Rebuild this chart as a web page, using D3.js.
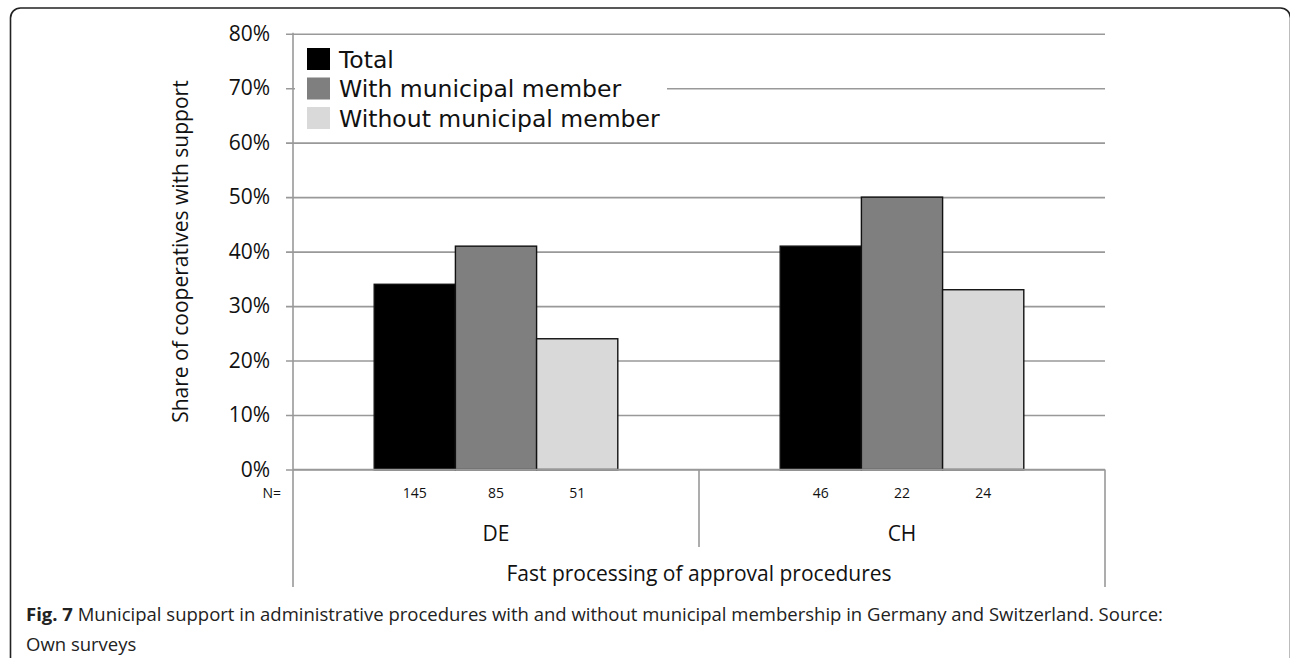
<!DOCTYPE html>
<html>
<head>
<meta charset="utf-8">
<script src="https://cdn.jsdelivr.net/npm/d3@7"></script>
<style>
  html, body { margin: 0; padding: 0; background: #fff; }
  svg { display: block; }
</style>
</head>
<body>
<svg id="chart" width="1290" height="658"></svg>
<script>
// Chart data
const countries = ["DE", "CH"];
const seriesNames = ["Total", "With municipal member", "Without municipal member"];
const seriesColors = ["#000000", "#7f7f7f", "#d9d9d9"];
const totalShare = [34, 41];
const withMemberShare = [41, 50];
const withoutMemberShare = [24, 33];
const sampleSizes = [[145, 85, 51], [46, 22, 24]];
const yTicks = [0, 10, 20, 30, 40, 50, 60, 70, 80];
const yTitle = "Share of cooperatives with support";
const xTitle = "Fast processing of approval procedures";
const captionBold = "Fig. 7";
const captionLine1 = " Municipal support in administrative procedures with and without municipal membership in Germany and Switzerland. Source:";
const captionLine2 = "Own surveys";

const values = [totalShare, withMemberShare, withoutMemberShare];

const svg = d3.select("#chart");
const axisFont = "'Open Sans', 'Noto Sans', sans-serif";

// Outer frame around figure + caption (runs past the right and bottom edges)
svg.append("rect")
  .attr("x", 10.5).attr("y", 8)
  .attr("width", 1280).attr("height", 662)
  .attr("rx", 10).attr("ry", 10)
  .attr("fill", "none").attr("stroke", "#222").attr("stroke-width", 1.6);

const plot = { left: 293, right: 1105, top: 33.7, bottom: 469.5 };

const y = d3.scaleLinear().domain([0, 80]).range([plot.bottom, plot.top]);
const x0 = d3.scaleBand().domain(countries).range([plot.left, plot.right]).paddingInner(0).paddingOuter(0);
const x1 = d3.scaleBand().domain(d3.range(seriesNames.length))
  .range([0, x0.bandwidth()]).paddingInner(0).paddingOuter(1.0);

// Horizontal gridlines with outward ticks
const yAxis = d3.axisLeft(y).tickValues(yTicks)
  .tickSize(-(plot.right - plot.left)).tickSizeOuter(0)
  .tickFormat(d => d + "%");
const gy = svg.append("g").attr("transform", `translate(${plot.left},0)`).call(yAxis);
gy.select(".domain").remove();
gy.selectAll(".tick line").attr("stroke", "#999").attr("stroke-width", 1.6)
  .attr("x1", -7);
gy.selectAll(".tick text")
  .attr("font-family", axisFont).attr("font-size", 21).attr("fill", "#111")
  .attr("x", -23);

// Bars
const groups = svg.append("g").selectAll("g")
  .data(countries).join("g")
  .attr("transform", d => `translate(${x0(d)},0)`);
groups.selectAll("rect")
  .data((d, ci) => values.map((s, si) => ({ si, v: s[ci] })))
  .join("rect")
  .attr("x", d => x1(d.si))
  .attr("width", x1.bandwidth())
  .attr("y", d => y(d.v))
  .attr("height", d => y(0) - y(d.v))
  .attr("fill", d => seriesColors[d.si])
  .attr("stroke", "#111").attr("stroke-width", 1.4);

// Y axis line and category separators
const axisLines = svg.append("g").attr("stroke", "#999").attr("stroke-width", 1.6);
axisLines.append("line").attr("x1", plot.left).attr("x2", plot.left)
  .attr("y1", plot.top - 1).attr("y2", 587);
axisLines.append("line").attr("x1", plot.right).attr("x2", plot.right)
  .attr("y1", plot.bottom).attr("y2", 587);
axisLines.append("line").attr("x1", x0("CH")).attr("x2", x0("CH"))
  .attr("y1", plot.bottom).attr("y2", 547);
axisLines.append("line").attr("x1", plot.left).attr("x2", plot.right)
  .attr("y1", plot.bottom).attr("y2", plot.bottom);

// Sample size row
svg.append("text").attr("x", 281).attr("y", 498)
  .attr("text-anchor", "end").attr("font-family", axisFont).attr("font-size", 14)
  .attr("fill", "#111").text("N=");
countries.forEach((c, ci) => {
  sampleSizes[ci].forEach((n, si) => {
    svg.append("text")
      .attr("x", x0(c) + x1(si) + x1.bandwidth() / 2)
      .attr("y", 498)
      .attr("text-anchor", "middle").attr("font-family", axisFont).attr("font-size", 14)
      .attr("fill", "#111").text(n);
  });
  svg.append("text")
    .attr("x", x0(c) + x0.bandwidth() / 2).attr("y", 541)
    .attr("text-anchor", "middle").attr("font-family", axisFont).attr("font-size", 21)
    .attr("fill", "#111").text(c);
});

// Axis titles
svg.append("text")
  .attr("x", (plot.left + plot.right) / 2).attr("y", 581)
  .attr("text-anchor", "middle").attr("font-family", axisFont).attr("font-size", 21)
  .attr("fill", "#111").text(xTitle);
svg.append("text")
  .attr("transform", `translate(188,${(plot.top + plot.bottom) / 2}) rotate(-90)`)
  .attr("text-anchor", "middle").attr("font-family", axisFont).attr("font-size", 21)
  .attr("fill", "#111").text(yTitle);

// Legend
const legend = svg.append("g").attr("transform", "translate(295,43)");
legend.append("rect").attr("x", 0).attr("y", 0).attr("width", 372).attr("height", 88)
  .attr("fill", "#fff");
seriesNames.forEach((name, i) => {
  const row = legend.append("g").attr("transform", `translate(12,${5 + i * 29.5})`);
  row.append("rect").attr("width", 23).attr("height", 22).attr("fill", seriesColors[i]);
  row.append("text").attr("x", 32).attr("y", 19.5)
    .attr("font-family", "'DejaVu Sans', sans-serif").attr("font-size", 23.5)
    .attr("fill", "#111").text(name);
});

// Caption
const cap = svg.append("text").attr("x", 26).attr("y", 621)
  .attr("font-family", axisFont)
  .attr("font-size", 18.5).attr("fill", "#222");
cap.append("tspan").attr("font-weight", "bold").text(captionBold);
cap.append("tspan").text(captionLine1);
svg.append("text").attr("x", 26).attr("y", 651)
  .attr("font-family", axisFont)
  .attr("font-size", 18.5).attr("fill", "#222").text(captionLine2);
</script>
</body>
</html>
